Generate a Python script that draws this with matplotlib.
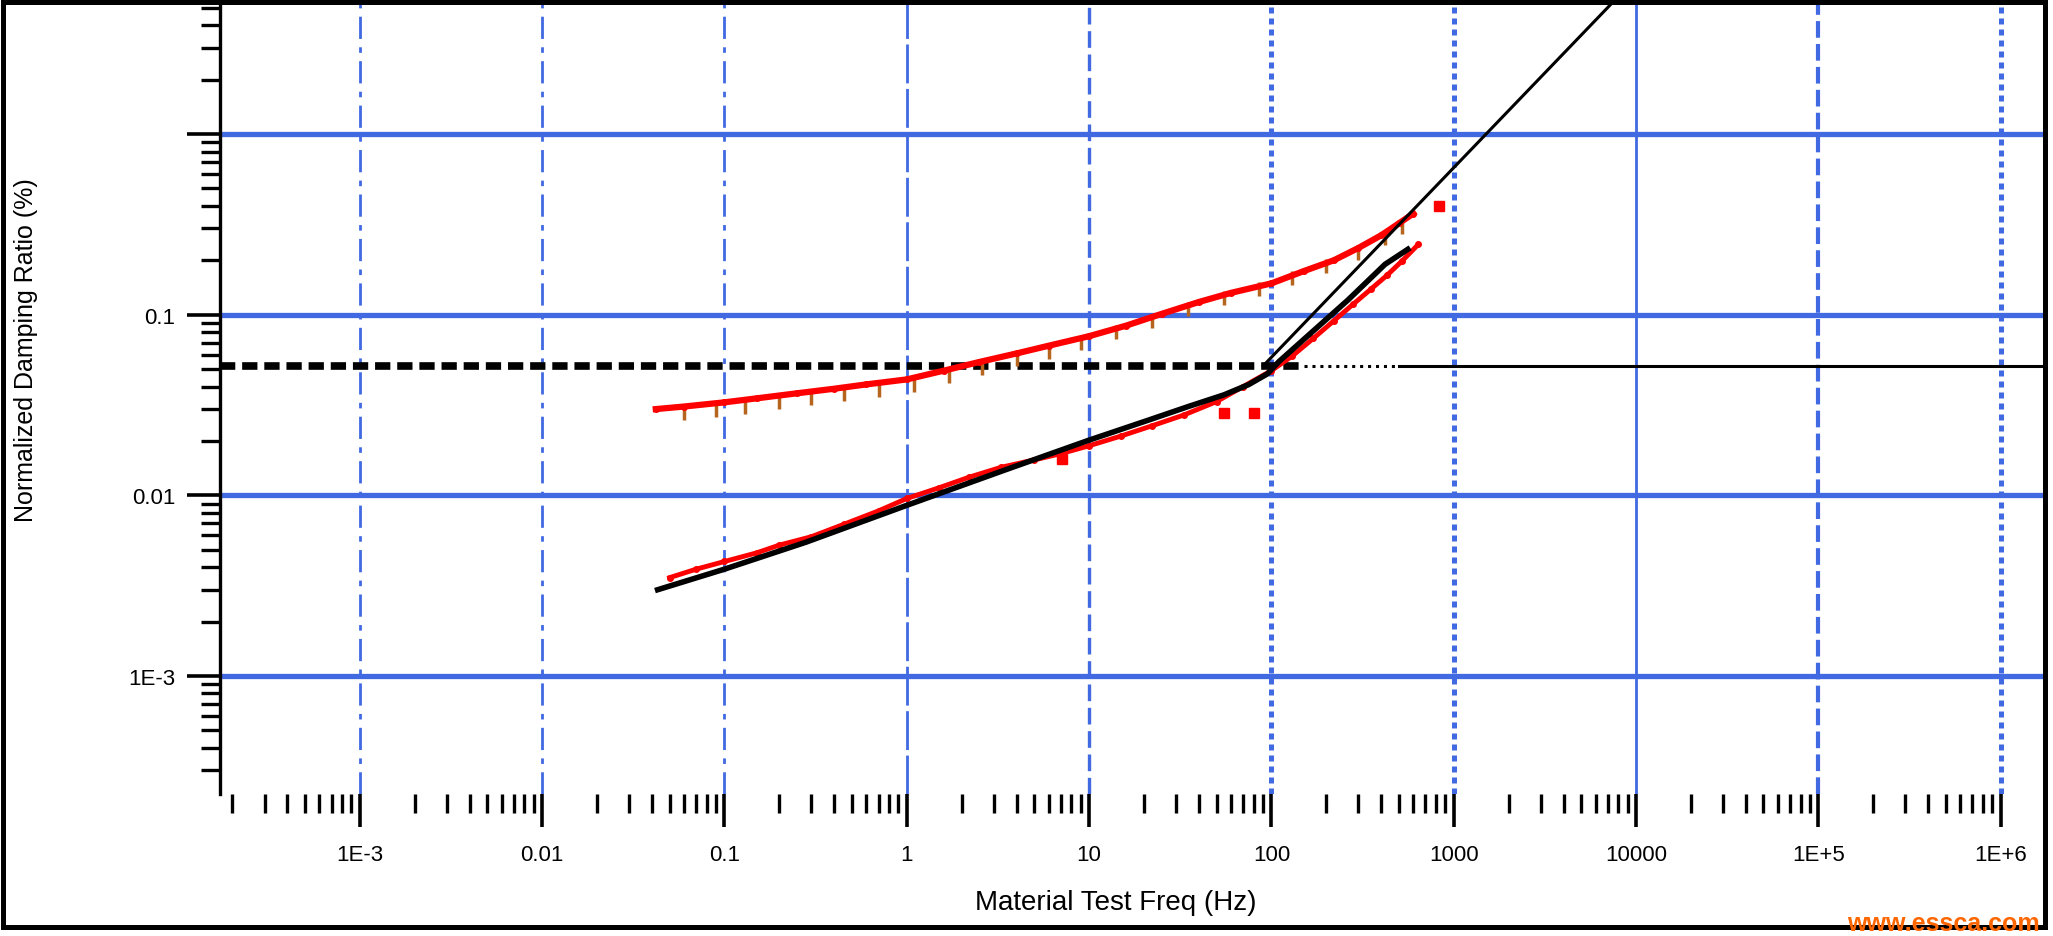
import matplotlib

matplotlib.use("Agg")

import matplotlib.pyplot as plt
from matplotlib.patches import Rectangle
from matplotlib.ticker import FixedFormatter, FixedLocator, NullFormatter

plt.rcParams["font.family"] = ["Liberation Sans", "DejaVu Sans"]

# axis decades and their labels
X_MAJOR = [1e-3, 1e-2, 1e-1, 1, 10, 100, 1e3, 1e4, 1e5, 1e6]
X_LABELS = ["1E-3", "0.01", "0.1", "1", "10", "100", "1000", "10000", "1E+5", "1E+6"]
Y_MAJOR = [1e-3, 1e-2, 1e-1, 1]
Y_LABELS = ["1E-3", "0.01", "0.1", ""]

# upper curve (red) and its companion points (brown)
upper_x = [0.042, 0.06, 0.1, 0.15, 0.25, 0.4, 0.6, 1, 1.6, 2.5, 4, 6, 10, 16, 25, 40,
           60, 100, 150, 220, 300, 400, 500, 600]
upper_y = [0.030, 0.031, 0.0327, 0.0344, 0.0367, 0.0389, 0.0411, 0.0438, 0.049, 0.0547,
           0.061, 0.0673, 0.076, 0.087, 0.101, 0.1175, 0.132, 0.149, 0.174, 0.20, 0.234,
           0.275, 0.32, 0.363]
brown_x = [0.06, 0.09, 0.13, 0.2, 0.3, 0.45, 0.7, 1.1, 1.7, 2.6, 4, 6, 9, 14, 22, 35,
           55, 85, 130, 200, 300, 420, 520]
brown_y = [0.0285, 0.0298, 0.0310, 0.0330, 0.0345, 0.0362, 0.0385, 0.0410, 0.0455, 0.0505,
           0.0565, 0.0625, 0.0700, 0.0800, 0.0920, 0.1070, 0.1230, 0.1380, 0.1600, 0.1850,
           0.2200, 0.2650, 0.3050]

# lower curve: fitted black line and red measurements
fit_x = [0.043, 0.1, 0.28, 1, 3.45, 10, 21, 35, 55, 75, 95, 110, 264, 420, 560]
fit_y = [0.0030, 0.0039, 0.0055, 0.0088, 0.0138, 0.0202, 0.026, 0.031, 0.036, 0.041,
         0.047, 0.055, 0.121, 0.19, 0.23]
lower_x = [0.05, 0.07, 0.1, 0.15, 0.2, 0.3, 0.45, 0.7, 1, 1.5, 2.2, 3.3, 5, 7, 10, 15,
           22, 33, 50, 70, 100, 130, 170, 220, 280, 350, 430, 520, 640]
lower_y = [0.0035, 0.0039, 0.0043, 0.0048, 0.0053, 0.0059, 0.0069, 0.0082, 0.0096,
           0.0110, 0.0126, 0.0143, 0.0157, 0.0170, 0.0188, 0.0213, 0.0242, 0.0278, 0.033,
           0.0400, 0.049, 0.059, 0.074, 0.0925, 0.114, 0.138, 0.165, 0.198, 0.245]
outlier_x = [7.1, 55, 80, 830]
outlier_y = [0.0159, 0.0285, 0.0285, 0.40]

# threshold level and steep asymptote
ref_level = 0.052
ref_breaks = [1.7e-4, 150, 500, 1.8e6]
slope_x = [90, 10000]
slope_y = [0.052, 7.3]

XLIM = (1.71e-4, 1.75e6)
YLIM = (2.22e-4, 5.59)

GRID_BLUE = "#4169E1"
vgrid_styles = [(0, (8, 3, 2, 3)), (0, (8, 3, 2, 3)), (0, (8, 3, 2, 3)), (0, (14, 2)),
                (0, (5, 2)), (0, (1.2, 1)), (0, (1.2, 1)), "-", (0, (4, 1.5)), (0, (1.2, 1))]
vgrid_widths = [2.0, 2.0, 2.0, 2.0, 2.4, 3.6, 3.6, 2.0, 3.0, 3.6]


def minor_positions():
    out = []
    for dec in [1e-4] + X_MAJOR[:-1]:
        for k in range(2, 10):
            v = k * dec
            if XLIM[0] <= v <= 1e6:
                out.append(v)
    return out


def main():
    fig = plt.figure(figsize=(20.53, 9.37), dpi=100)
    ax = fig.add_axes([220 / 2053, 142 / 937, 1825 / 2053, 795 / 937])
    ax.set_xscale("log")
    ax.set_yscale("log")
    ax.set_xlim(*XLIM)
    ax.set_ylim(*YLIM)

    for y in Y_MAJOR:
        ax.axhline(y, color=GRID_BLUE, lw=3.8, zorder=1)
    for x, ls, lw in zip(X_MAJOR, vgrid_styles, vgrid_widths):
        ax.axvline(x, color=GRID_BLUE, lw=lw, linestyle=ls, zorder=1)

    # reference level: dashed, then dotted, then solid
    ax.plot(ref_breaks[0:2], [ref_level] * 2, color="black", lw=5.5,
            linestyle=(0, (2, 0.9)), zorder=3)
    ax.plot(ref_breaks[1:3], [ref_level] * 2, color="black", lw=2.2,
            linestyle=(0, (1, 1.6)), zorder=3)
    ax.plot(ref_breaks[2:4], [ref_level] * 2, color="black", lw=2.2, zorder=3)

    ax.plot(brown_x, brown_y, linestyle="none", marker="|", ms=10, mew=2.5,
            color="#B5651D", zorder=3)
    ax.plot(upper_x, upper_y, color="red", lw=4.5, marker="o", ms=4, zorder=4)
    ax.plot(lower_x, lower_y, color="red", lw=3.5, marker="o", ms=4, zorder=4)
    ax.plot(outlier_x, outlier_y, linestyle="none", marker="s", ms=7, color="red", zorder=4)
    ax.plot(fit_x, fit_y, color="black", lw=4, zorder=5)
    ax.plot(slope_x, slope_y, color="black", lw=2.2, zorder=5)

    for side in ["top", "right", "bottom"]:
        ax.spines[side].set_visible(False)
    ax.spines["left"].set_linewidth(2.4)

    ax.xaxis.set_major_locator(FixedLocator(X_MAJOR))
    ax.xaxis.set_major_formatter(FixedFormatter(X_LABELS))
    ax.xaxis.set_minor_locator(FixedLocator(minor_positions()))
    ax.xaxis.set_minor_formatter(NullFormatter())
    ax.yaxis.set_major_locator(FixedLocator(Y_MAJOR))
    ax.yaxis.set_major_formatter(FixedFormatter(Y_LABELS))
    ax.yaxis.set_minor_locator(FixedLocator(
        [k * d for d in [1e-4, 1e-3, 1e-2, 1e-1, 1] for k in range(2, 10)
         if YLIM[0] <= k * d <= YLIM[1]]))
    ax.yaxis.set_minor_formatter(NullFormatter())

    ax.tick_params(axis="both", which="major", direction="out", length=24, width=2.6,
                   labelsize=16, color="black")
    ax.tick_params(axis="both", which="minor", direction="out", length=14, width=2.4)
    ax.tick_params(axis="x", which="major", pad=12)
    ax.tick_params(axis="y", which="major", pad=8)

    fig.text(1116 / 2053, 1 - 903 / 937, "Material Test Freq (Hz)", fontsize=20,
             ha="center", va="center")
    fig.text(26 / 2053, 1 - 350 / 937, "Normalized Damping Ratio (%)", fontsize=18,
             ha="center", va="center", rotation=90)

    fig.patches.append(Rectangle((3 / 2053, 9 / 937), 2042 / 2053, 925 / 937,
                                 transform=fig.transFigure, fill=False,
                                 edgecolor="black", lw=3.6))
    fig.text(2040 / 2053, 1 - 924 / 937, "www.essca.com", fontsize=18, fontweight="bold",
             color="#FF6600", ha="right", va="center")

    fig.savefig("out.png", dpi=100)
    plt.close(fig)


if __name__ == "__main__":
    main()
